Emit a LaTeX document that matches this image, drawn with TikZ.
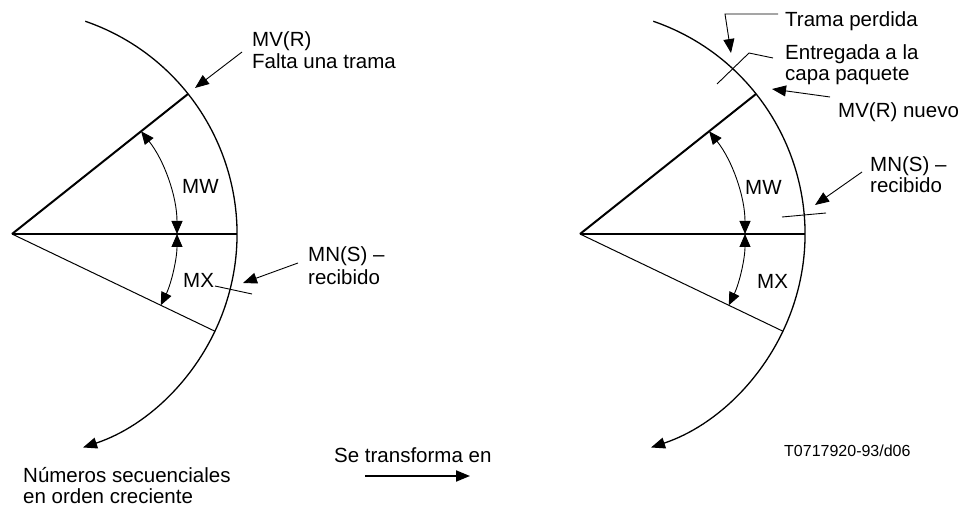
\documentclass[tikz,border=0pt]{standalone}
\usepackage{fontspec}
\setmainfont{Liberation Sans}
\usetikzlibrary{arrows.meta,calc}
\tikzset{every node/.style={inner sep=0pt,font=\fontsize{20.5}{21}\selectfont}}
\tikzset{lbl/.style={anchor=base west}}
\tikzset{tip/.style={-{Triangle[length=14pt,width=11pt]}}}
\tikzset{tips/.style={{Triangle[length=13pt,width=11pt]}-{Triangle[length=13pt,width=11pt]}}}
\tikzset{leader/.style={line width=0.9pt}}
\begin{document}
\begin{tikzpicture}[x=1pt,y=-1pt]
\useasboundingbox (0,0) rectangle (962,510);

\coordinate (o1) at (12,234);
\draw [line width=2.5pt] (o1) -- ($(o1)+(0:225)$) coordinate (h1);
\draw [line width=2pt] (o1) -- ($(o1)+(-38.5:225)$) coordinate (u1);
\draw [line width=1pt] (o1) -- ($(o1)+(25.6:225)$) coordinate (l1);
\draw [line width=1.3pt,tip] ($(o1)+(-71:225)$) arc [start angle=-71, end angle=71.6, radius=225];
\draw [line width=0.9pt,tips] ($(o1)+(-38.5:165)$) arc [start angle=-38.5, end angle=0, radius=165];
\draw [line width=0.9pt,tips] ($(o1)+(25.6:165)$) arc [start angle=25.6, end angle=0, radius=165];

\node [lbl] (mw1) at (182,194) {MW};
\node [lbl] (mx1) at (183,288) {MX};
\node [lbl] (mvr1) at (252,47) {MV(R)};
\node [lbl] (falta) at (252,69) {Falta una trama};
\node [lbl] (mns1) at (308,262) {MN(S) –};
\node [lbl] (rec1) at (308,285) {recibido};
\node [lbl] (num) at (23,483) {Números secuenciales};
\node [lbl] (orden) at (23,504) {en orden creciente};

\coordinate (mvr1t) at (242,52);
\coordinate (mvr1h) at (195,88);
\draw [leader,tip] (mvr1t) -- (mvr1h);
\coordinate (mns1t) at (298,263);
\coordinate (mns1h) at (243,283);
\draw [leader,tip] (mns1t) -- (mns1h);
\coordinate (tick1a) at (215,286);
\coordinate (tick1b) at (252,294);
\draw [leader] (tick1a) -- (tick1b);

\node [lbl] (trans) at (334,463) {Se transforma en};
\coordinate (tr1) at (365,476);
\coordinate (tr2) at (470,476);
\draw [line width=2pt,tip] (tr1) -- (tr2);

\coordinate (o2) at (580,234);
\draw [line width=2.5pt] (o2) -- ($(o2)+(0:225)$) coordinate (h2);
\draw [line width=2pt] (o2) -- ($(o2)+(-38.5:225)$) coordinate (u2);
\draw [line width=1pt] (o2) -- ($(o2)+(25.6:225)$) coordinate (l2);
\draw [line width=1.3pt,tip] ($(o2)+(-71:225)$) arc [start angle=-71, end angle=71.6, radius=225];
\draw [line width=0.9pt,tips] ($(o2)+(-38.5:165)$) arc [start angle=-38.5, end angle=0, radius=165];
\draw [line width=0.9pt,tips] ($(o2)+(25.6:165)$) arc [start angle=25.6, end angle=0, radius=165];

\node [lbl] (mw2) at (745,195) {MW};
\node [lbl] (mx2) at (757,289) {MX};
\node [lbl] (trama) at (785,27) {Trama perdida};
\node [lbl] (entr) at (785,60) {Entregada a la};
\node [lbl] (capa) at (785,81) {capa paquete};
\node [lbl] (mvr2) at (838,118) {MV(R) nuevo};
\node [lbl] (mns2) at (870,172) {MN(S) –};
\node [lbl] (rec2) at (870,193) {recibido};
\node [lbl,font=\fontsize{16}{19}\selectfont] (ref) at (784,457) {T0717920-93/d06};

\coordinate (tramat) at (778,14);
\coordinate (tramak) at (725,14);
\coordinate (tramah) at (731,53);
\draw [leader,tip] (tramat) -- (tramak) -- (tramah);
\coordinate (entrt) at (773,58);
\coordinate (entrk) at (749,53);
\coordinate (entre) at (717,84);
\draw [leader] (entrt) -- (entrk) -- (entre);
\coordinate (mvr2t) at (830,97);
\coordinate (mvr2h) at (772,89);
\draw [leader,tip] (mvr2t) -- (mvr2h);
\coordinate (mns2t) at (862,172);
\coordinate (mns2h) at (815,205);
\draw [leader,tip] (mns2t) -- (mns2h);
\coordinate (tick2a) at (782,217);
\coordinate (tick2b) at (826,213);
\draw [leader] (tick2a) -- (tick2b);
\end{tikzpicture}
\end{document}
